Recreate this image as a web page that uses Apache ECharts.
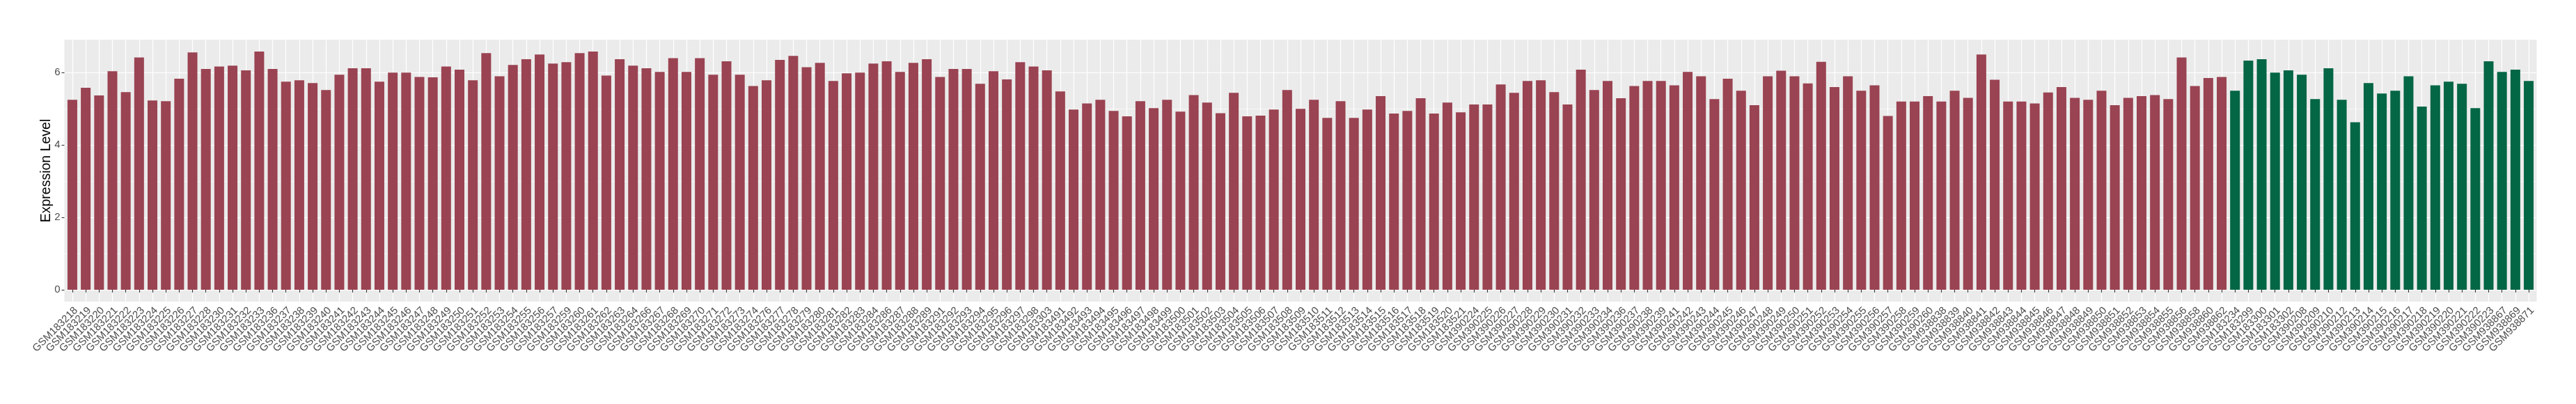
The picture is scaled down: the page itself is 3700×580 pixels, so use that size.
<!DOCTYPE html>
<html>
<head>
<meta charset="utf-8">
<script src="https://cdn.jsdelivr.net/npm/echarts@6/dist/echarts.min.js"></script>
<style>
html,body{margin:0;padding:0;background:#ffffff;}
#chart{width:3700px;height:580px;}
</style>
</head>
<body>
<div id="chart"></div>
<script>
// ---------------- DATA ----------------
// Group 1 (dark red bars)
const groupALabels = [
  "GSM183218","GSM183219","GSM183220","GSM183221","GSM183222","GSM183223","GSM183224","GSM183225","GSM183226","GSM183227","GSM183228","GSM183230","GSM183231","GSM183232","GSM183233",
  "GSM183236","GSM183237","GSM183238","GSM183239","GSM183240","GSM183241","GSM183242","GSM183243","GSM183244","GSM183245","GSM183246","GSM183247","GSM183248","GSM183249","GSM183250","GSM183251",
  "GSM183252","GSM183253","GSM183254","GSM183255","GSM183256","GSM183257","GSM183259","GSM183260","GSM183261","GSM183262","GSM183263","GSM183264","GSM183266","GSM183267","GSM183268","GSM183269",
  "GSM183270","GSM183271","GSM183272","GSM183273","GSM183274","GSM183276","GSM183277","GSM183278","GSM183279","GSM183280","GSM183281","GSM183282","GSM183283","GSM183284","GSM183286",
  "GSM183287","GSM183288","GSM183289","GSM183291","GSM183292","GSM183293","GSM183294","GSM183295","GSM183296","GSM183297","GSM183298","GSM183303","GSM183491","GSM183492","GSM183493","GSM183494",
  "GSM183495","GSM183496","GSM183497","GSM183498","GSM183499","GSM183500","GSM183501","GSM183502","GSM183503","GSM183504","GSM183505","GSM183506","GSM183507","GSM183508","GSM183509",
  "GSM183510","GSM183511","GSM183512","GSM183513","GSM183514","GSM183515","GSM183516","GSM183517","GSM183518","GSM183519","GSM183520","GSM183521",
  "GSM390224","GSM390225","GSM390226","GSM390227","GSM390228","GSM390229","GSM390230","GSM390231","GSM390232","GSM390233","GSM390234","GSM390236","GSM390237","GSM390238","GSM390239","GSM390241","GSM390242","GSM390243","GSM390244","GSM390245",
  "GSM390246","GSM390247","GSM390248","GSM390249","GSM390250","GSM390251","GSM390252","GSM390253","GSM390254","GSM390255","GSM390256","GSM390257","GSM390258","GSM390259","GSM390260",
  "GSM938838","GSM938839","GSM938840","GSM938841","GSM938842","GSM938843","GSM938844","GSM938845","GSM938846","GSM938847","GSM938848","GSM938849","GSM938850","GSM938851","GSM938852","GSM938853","GSM938854","GSM938855","GSM938856","GSM938858","GSM938860","GSM938862"
];
const groupAValues = [
  5.25,5.58,5.37,6.04,5.46,6.42,5.23,5.21,5.83,6.56,6.10,6.17,6.19,6.06,6.58,
  6.10,5.75,5.79,5.71,5.52,5.94,6.12,6.12,5.75,6.00,6.00,5.88,5.87,6.17,6.08,5.79,
  6.54,5.90,6.21,6.37,6.50,6.25,6.29,6.54,6.58,5.92,6.37,6.19,6.12,6.02,6.40,6.02,
  6.40,5.94,6.31,5.94,5.63,5.79,6.35,6.46,6.15,6.27,5.77,5.98,6.00,6.25,6.31,
  6.02,6.27,6.37,5.88,6.10,6.10,5.69,6.04,5.81,6.29,6.17,6.06,5.48,4.98,5.15,5.25,
  4.94,4.79,5.21,5.02,5.25,4.92,5.38,5.17,4.88,5.44,4.79,4.81,4.98,5.52,5.00,
  5.25,4.75,5.21,4.75,4.98,5.35,4.87,4.94,5.29,4.87,5.17,4.90,
  5.12,5.12,5.67,5.44,5.77,5.79,5.46,5.12,6.08,5.52,5.77,5.29,5.63,5.77,5.77,5.65,6.02,5.90,5.27,5.83,
  5.50,5.10,5.90,6.05,5.90,5.70,6.30,5.60,5.90,5.50,5.65,4.80,5.20,5.20,5.35,
  5.20,5.50,5.30,6.50,5.80,5.20,5.20,5.15,5.45,5.60,5.30,5.25,5.50,5.10,5.30,5.35,5.38,5.27,6.42,5.63,5.85,5.88
];
// Group 2 (dark green bars)
const groupBLabels = [
  "GSM183234","GSM183299","GSM183300","GSM183301","GSM183302",
  "GSM390208","GSM390209","GSM390210","GSM390212","GSM390213","GSM390214","GSM390215","GSM390216","GSM390217","GSM390218","GSM390219","GSM390220","GSM390221","GSM390222","GSM390223",
  "GSM938867","GSM938869","GSM938871"
];
const groupBValues = [
  5.50,6.33,6.37,6.00,6.06,
  5.94,5.27,6.12,5.25,4.63,5.71,5.42,5.50,5.90,5.06,5.65,5.75,5.69,5.02,6.31,
  6.02,6.08,5.77
];
const yTickValues = [0, 2, 4, 6];
const yTitle = "Expression Level";

// ---------------- LAYOUT ----------------
const W = 3700, H = 580;
const PANEL_L = 92.5, PANEL_R = 3643.5, PANEL_T = 57, PANEL_B = 433;
const FONT = "'Liberation Sans', Arial, sans-serif";

const categories = groupALabels.concat(groupBLabels);
const n = categories.length;
const unit = (PANEL_R - PANEL_L) / (n + 1.2);      // ggplot discrete expansion 0.6 each side
const firstCenter = PANEL_L + 0.6 * unit;
const lastCenter = PANEL_R - 0.6 * unit;

const allVals = groupAValues.concat(groupBValues);
const M = Math.max.apply(null, allVals);
const yMin = -0.05 * M, yMax = 1.05 * M;           // ggplot continuous expansion 5%
const pxPerUnit = (PANEL_B - PANEL_T) / (yMax - yMin);
const yPx = v => PANEL_B - (v - yMin) * pxPerUnit;
const yTop = yTickValues[yTickValues.length - 1];

const seriesA = groupAValues.concat(groupBValues.map(() => '-'));
const seriesB = groupAValues.map(() => '-').concat(groupBValues);

const chart = echarts.init(document.getElementById('chart'), null, {renderer: 'canvas'});
chart.setOption({
  animation: false,
  backgroundColor: '#ffffff',
  textStyle: {fontFamily: FONT},
  grid: [
    // panel background
    {left: PANEL_L, top: PANEL_T, width: PANEL_R - PANEL_L, height: PANEL_B - PANEL_T,
     show: true, backgroundColor: '#EBEBEB', borderWidth: 0},
    // category grid (bars, vertical gridlines, x labels)
    {left: firstCenter, top: PANEL_T, width: lastCenter - firstCenter, height: PANEL_B - PANEL_T},
    // y tick grid (horizontal gridlines + labels)
    {left: PANEL_L, top: yPx(yTop), width: PANEL_R - PANEL_L, height: yPx(0) - yPx(yTop)}
  ],
  xAxis: [
    {gridIndex: 0, type: 'value', show: false},
    {gridIndex: 1, type: 'category', data: categories, boundaryGap: false,
     axisLine: {show: false},
     axisTick: {show: true, length: 4, lineStyle: {color: '#333333', width: 1.1}},
     splitLine: {show: true, lineStyle: {color: '#FFFFFF', width: 1.2}},
     axisLabel: {interval: 0, rotate: 45, fontSize: 15, color: '#4D4D4D', fontFamily: FONT,
                 align: 'right', verticalAlign: 'top', margin: 5}},
    {gridIndex: 2, type: 'value', show: false}
  ],
  yAxis: [
    {gridIndex: 0, type: 'value', show: false},
    {gridIndex: 1, type: 'value', min: yMin, max: yMax, show: true,
     axisLine: {show: false}, axisTick: {show: false}, axisLabel: {show: false}, splitLine: {show: false},
     name: yTitle, nameLocation: 'middle', nameGap: 27.5, nameMoveOverlap: false,
     nameTextStyle: {fontSize: 19.5, color: '#000000', fontFamily: FONT}},
    {gridIndex: 2, type: 'value', min: yTickValues[0], max: yTop, interval: 2,
     axisLine: {show: false},
     axisTick: {show: true, length: 4, lineStyle: {color: '#333333', width: 1.1}},
     axisLabel: {show: true, showMinLabel: true, showMaxLabel: true, hideOverlap: false,
                 fontSize: 15, color: '#4D4D4D', margin: 6, fontFamily: FONT},
     splitLine: {show: true, lineStyle: {color: '#FFFFFF', width: 1.2}},
     minorTick: {show: false, splitNumber: 2},
     minorSplitLine: {show: true, lineStyle: {color: '#FFFFFF', width: 0.6}}}
  ],
  series: [
    {type: 'bar', xAxisIndex: 1, yAxisIndex: 1, data: seriesA, barWidth: '73%', barGap: '-100%',
     clip: false, itemStyle: {color: '#9A4352'}, silent: true},
    {type: 'bar', xAxisIndex: 1, yAxisIndex: 1, data: seriesB, barWidth: '73%', barGap: '-100%',
     clip: false, itemStyle: {color: '#036645'}, silent: true}
  ]
});
</script>
</body>
</html>
